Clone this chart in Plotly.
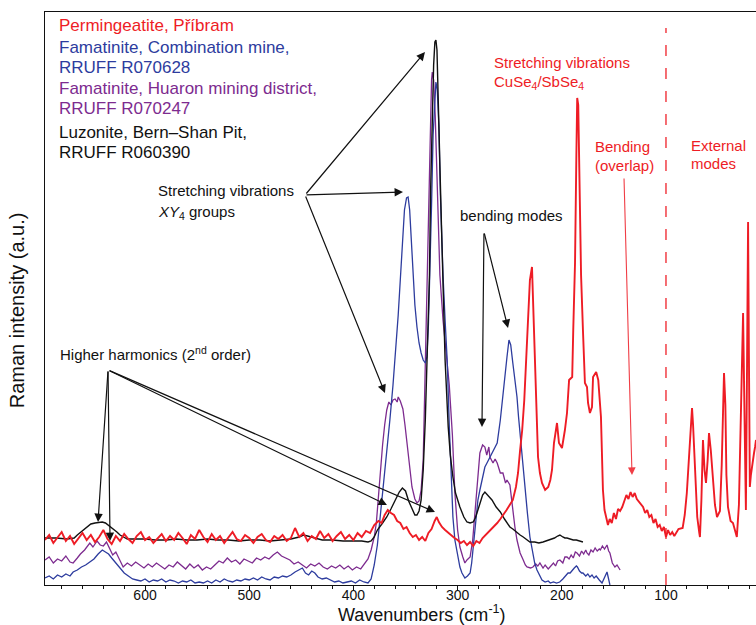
import plotly.graph_objects as go

# ---------------- data (wavenumber cm-1, Raman intensity a.u.) ----------------
red = [(696,45),(692,50),(688,42),(684,48),(680,53),(676,44),(672,49),(668,41),(664,47),(660,52),
(656,45),(652,50),(648,43),(644,48),(640,55),(636,46),(632,41),(628,49),(624,44),(620,51),
(616,46),(612,42),(608,49),(604,53),(600,45),(596,48),(592,42),(588,47),(584,51),(580,44),
(576,49),(572,45),(568,52),(564,47),(560,41),(556,50),(552,46),(548,55),(544,48),(540,43),
(536,51),(532,45),(528,49),(524,42),(520,48),(516,53),(512,46),(508,44),(504,50),(500,47),
(496,42),(492,48),(488,51),(484,45),(480,43),(476,49),(472,46),(468,50),(464,44),(460,47),
(456,57),(452,48),(448,52),(444,44),(440,49),(436,46),(432,54),(428,47),(424,51),(420,44),
(416,49),(412,53),(408,46),(404,50),(400,45),(396,52),(392,48),(388,54),(384,52),(380,60),
(376,64),(373,62),(370,70),(367,75),(364,72),(361,70),(358,64),(355,62),(352,56),(349,58),
(346,52),(343,48),(340,50),(337,45),(334,48),(331,44),(328,52),(325,56),(322,64),(320,68),
(318,63),(315,58),(312,55),(309,52),(306,49),(303,47),(300,45),(297,42),(294,44),(291,40),
(288,43),(285,39),(282,44),(279,42),(276,47),(273,50),(270,54),(267,56),(264,60),(262,62),
(259,66),(256,70),(253,75),(250,80),(247,85),(244,98),(242,112),(240,135),(238,155),(236,185),
(235,205),(233.5,235),(232.5,255),(230.6,305),(228.6,318),(227.7,288),(225.8,222),(223.8,172),(222.8,128),(221,112),
(219,102),(216,95),(213,98),(211,105),(209.4,115),(207.5,142),(205.6,158),(204.6,162),(202.7,142),(199.8,137),
(197,155),(195,172),(193,205),(190,208),(189,255),(187.3,322),(186,430),(185.2,487),(184.2,480),(183,400),
(181.5,310),(179.7,255),(177.8,202),(175.8,198),(174.8,182),(173,172),(171,178),(170,208),(167,213),(165,205),
(162.4,168),(160.5,95),(159,75),(157,66),(155.7,60),(154,66),(152,62),(150,72),(148,66),(146,76),
(144,74),(142,78),(140,84),(138,90),(136,86),(134,93),(132,88),(130,92),(128,86),(126,83),
(124,80),(122,78),(120,72),(118,75),(116,68),(114,70),(112,62),(110,66),(108,58),(106,60),
(104,54),(102,58),(100,48),(98,55),(96,50),(94,53),(92,49),(90,52),(88,56),(84,57),
(82,70),(80,92),(78,125),(76,158),(75,177),(74,160),(72,110),(70,68),(68,52),(67.4,48),
(66,85),(64.5,145),(63,115),(61.6,102),(60,125),(58.7,152),(57,135),(55,102),(53,80),(51,68),
(49,72),(48.2,74),(46.5,120),(45.3,170),(44.3,212),(43,180),(42,110),(40.5,78),(38,64),(35.7,62),
(34,54),(32,48),(30,80),(28,180),(26,272),(24.5,160),(23.3,75),(22.2,220),(21.2,363),(20.4,230),
(19.5,98),(18.5,110),(17.6,118),(16.5,125),(15.5,132),(14.5,138),(13.6,145)]

blue = [(696,7),(692,9),(688,6),(684,10),(680,8),(676,11),(672,9),(669,13),(665,15),(661,18),
(657,20),(653,23),(649,26),(645,31),(641,35),(638,33),(635,31),(632,27),(628,22),(624,17),
(620,12),(616,9),(612,6),(608,5),(604,4),(600,6),(596,3),(592,5),(588,4),(584,6),
(580,3),(576,5),(572,4),(568,2),(564,4),(560,3),(556,5),(552,2),(548,3),(544,2),
(540,4),(536,2),(532,5),(528,3),(524,6),(520,4),(516,3),(512,5),(508,4),(504,6),
(500,5),(496,7),(492,5),(488,8),(484,6),(480,5),(476,8),(472,7),(468,9),(464,8),
(460,10),(456,13),(452,15),(449,17),(446,12),(443,10),(440,14),(437,12),(434,8),(430,6),
(426,7),(422,5),(418,3),(414,4),(410,2),(406,3),(402,4),(398,2),(394,5),(390,3),
(386,2),(383,6),(380,20),(377,40),(374,70),(371,100),(368,135),(365,165),(362,200),(360,225),
(357,270),(355,305),(353,345),(351,375),(349,387),(347.5,388),(346,375),(344.5,345),(343,310),(341,280),
(339,258),(337,242),(335,232),(333,225),(331,222),(329.5,228),(328,260),(326.6,310),(325,380),(323.5,450),
(322,490),(320.8,503),(319.5,495),(318,460),(316.5,390),(315,335),(314,310),(312,265),(310,225),(308,160),
(306,100),(304.5,68),(302.6,45),(300,28),(297.8,18),(295.8,12),(293,7),(290.5,9),(288,12),(286.5,22),
(285,38),(283,62),(280.5,85),(278.6,95),(276,108),(273.8,118),(271.8,122),(269,128),(267,132),(264.5,137),
(262,142),(259,165),(256.5,192),(254,215),(252.6,228),(250.7,245),(249,240),(247,222),(245,205),(243,188),
(241.5,168),(240,150),(238,125),(236.5,110),(235,95),(233,72),(230.6,48),(228,32),(226,22),(223.8,15),
(221,9),(219,5),(216,3),(213,4),(211,2),(208,3),(205,2),(202,3),(199,6),(196,9),
(194,12),(192,12),(190,15),(188,17),(186,19),(185,18),(183,14),(181,12),(179.7,12),(177,9),
(175,11),(173,8),(171,10),(169,7),(167,9),(166,8),(164,5),(161.4,2),(159.5,6),(157.5,11),
(156.6,13),(155.5,8),(154.5,3),(153.8,0)]

purple = [(696,25),(692,28),(688,22),(684,26),(680,24),(676,29),(672,23),(669,22),(665,27),(662,31),
(658,35),(655,40),(653,42),(650,38),(646,44),(643,40),(640,39),(637,43),(634,36),(631,30),
(628,33),(624,24),(621,18),(617,22),(613,19),(609,23),(605,20),(601,17),(597,21),(593,18),
(589,22),(585,19),(581,16),(577,20),(573,18),(569,23),(565,19),(561,16),(557,21),(553,17),
(549,20),(545,15),(541,18),(537,16),(533,20),(529,24),(525,22),(521,27),(517,23),(513,25),
(509,21),(505,26),(501,24),(497,22),(493,27),(489,25),(485,28),(481,26),(477,30),(473,33),
(469,29),(465,27),(461,25),(457,21),(453,23),(449,20),(445,17),(441,21),(437,19),(433,22),
(429,18),(425,16),(421,19),(417,17),(413,20),(409,16),(405,19),(401,15),(397,18),(393,16),
(390,20),(386,26),(383,35),(380,48),(378,62),(376,90),(374,120),(372,140),(370,160),(368,175),
(366,183),(364,180),(362,185),(360,186),(358,183),(357,188),(355,184),(352.5,176),(350.5,160),(348.6,142),
(346,118),(343.8,98),(341,86),(339,82),(337,84),(335,95),(333,125),(331.5,200),(330,280),(329,340),
(327.5,410),(326,470),(325,505),(324.3,513),(323,505),(321.5,470),(320,410),(318.5,350),(317,310),(314,265),
(311,235),(308,200),(305,150),(302.6,92),(300,55),(297.8,38),(295,28),(293,22),(291,25),
(288,28),(285.5,45),(283,75),(280.5,110),(278.6,132),(276,140),(273.8,138),(272,130),(270,138),(269,128),
(266,122),(264,126),(262,122),(259,112),(256.5,112),(254,102),(252.6,105),(249.8,100),(248,85),(247,72),
(245,58),(243,45),(240,32),(237,25),(235,20),(233.4,18),(230,17),(227.7,18),(225,21),(223,19),
(221,22),(218,17),(216,20),(213,16),(211,18),(208,22),(206,19),(204,24),(201.8,25),(199,22),
(197,28),(195,28),(193,26),(191,30),(189,27),(187,33),(185.4,32),(183,29),(181,34),(179,31),
(177,35),(175.8,32),(174,30),(172,35),(170,33),(168,37),(166,34),(164,36),(163,35),(161,39),
(159,36),(156.6,40),(155,34),(153.8,32),(151.5,22),(149,18),(147,20),(145,16),(144,15)]

black = [(696,47),(685,47),(675,46),(668,47),(665,50),(660,54),(656,58),(652,61),(648,62),(644,63),
(641,63),(638,62),(634,59),(630,56),(627,53),(624,50),(621,48),(617,46),(610,46),(600,46),
(590,45),(580,45),(570,46),(560,45),(550,45),(540,46),(530,45),(520,45),(510,44),(500,45),
(490,45),(480,44),(470,45),(460,46),(452,48),(448,50),(444,49),(438,47),(430,45),(420,45),
(410,44),(400,44),(392,44),(386,43),(383,44),(380,48),(377,55),(372,62),(368,68),(364,76),
(360,85),(356,93),(353,97),(350,94),(347,84),(344,76),(341,70),(339,70),(337,74),(335,85),
(333,115),(331,165),(329.5,220),(328,270),(327,310),(326,390),(324.5,470),(323,520),(321.8,543),(320.8,545),
(319.8,535),(318.5,490),(317,420),(315.5,360),(314,310),(312,225),(309,158),(307,130),(304.5,108),(302,92),
(297.8,78),(294,68),(291,63),(288,62),(285,63),(283,67),(280.5,75),(278,84),(276,90),(273.8,93),
(271,90),(267,85),(263,78),(259,73),(255,66),(249.8,58),(247,56),(243,52),(240,50),(237,48),
(233,45),(230.6,43),(226,43),(222,42),(218,43),(215,44),(211,45),(207,47),(204,49),(201.8,50),
(199,48),(197,47),(195,47),(192,46),(189,45),(186,45),(183,44),(179.7,43)]

series_names = ["Permingeatite, Příbram", "Famatinite, Combination mine, RRUFF R070628",
                "Famatinite, Huaron mining district, RRUFF R070247", "Luzonite, Bern–Shan Pit, RRUFF R060390"]
tick_values = [600, 500, 400, 300, 200, 100]
boundary_wn = 100

RED = "#ee1c25"
BLUE = "#2d3c9e"
PURPLE = "#7d2b8f"
BLACK = "#111111"
FONT = "Liberation Sans, Arial, sans-serif"

fig = go.Figure()
for data, color, width, name in [(purple, PURPLE, 1.3, series_names[2]),
                                 (blue, BLUE, 1.3, series_names[1]),
                                 (black, BLACK, 1.4, series_names[3]),
                                 (red, RED, 1.9, series_names[0])]:
    wn, inten = zip(*data)
    fig.add_trace(go.Scatter(x=list(wn), y=list(inten), mode="lines", name=name,
                             line=dict(color=color, width=width), showlegend=False))

# dashed boundary
fig.add_shape(type="line", x0=boundary_wn, x1=boundary_wn, y0=0, y1=557, xref="x", yref="y",
              line=dict(color="rgba(238,28,37,0.85)", width=1.5, dash="11px,12px"))

ann = []
def txt(x, y, s, color=BLACK, size=15):
    ann.append(dict(x=x, y=y, xref="x", yref="y", text=s, showarrow=False, xanchor="left",
                    yanchor="middle", font=dict(family=FONT, size=size, color=color)))

def arrow(x0, y0, x1, y1, color=BLACK, width=1.2):
    ann.append(dict(x=x1, y=y1, ax=x0, ay=y0, xref="x", yref="y", axref="x", ayref="y",
                    text="", showarrow=True, arrowhead=2, arrowsize=1.4, arrowwidth=width,
                    arrowcolor=color, standoff=0, startstandoff=0))

# legend-like text block
leg_x = 684.5
txt(leg_x, 560, "Permingeatite, Příbram", RED, 17)
txt(leg_x, 538, "Famatinite, Combination mine,", BLUE, 17)
txt(leg_x, 518, "RRUFF R070628", BLUE, 17)
txt(leg_x, 497, "Famatinite, Huaron mining district,", PURPLE, 17)
txt(leg_x, 477, "RRUFF R070247", PURPLE, 17)
txt(leg_x, 453, "Luzonite, Bern–Shan Pit,", BLACK, 17)
txt(leg_x, 433, "RRUFF R060390", BLACK, 17)

# black annotations
txt(589.5, 395, "Stretching vibrations")
txt(589.5, 373, "<i>XY</i><sub>4</sub> groups")
arrow(446.4, 390, 331.3, 533)
arrow(446.4, 390, 352.4, 393)
arrow(446.4, 390, 369.7, 192)

txt(299.6, 370, "bending modes")
arrow(274.7, 353, 276.6, 158)
arrow(274.7, 353, 251.6, 257)

txt(683.5, 232, "Higher harmonics (2<sup>nd</sup> order)")
arrow(635.5, 215, 645.1, 63)
arrow(635.5, 215, 633.6, 44)
arrow(635.5, 215, 367.8, 80)
arrow(635.5, 215, 321.7, 73)

# red annotations
txt(267, 523, "Stretching vibrations", RED)
txt(267, 503, "CuSe<sub>4</sub>/SbSe<sub>4</sub>", RED)
txt(170, 439, "Bending", RED)
txt(170, 420, "(overlap)", RED)
txt(78, 440, "External", RED)
txt(78, 422, "modes", RED)
arrow(140.3, 408, 132.6, 110, color="rgba(238,28,37,0.85)", width=1.1)

# axis titles
ann.append(dict(x=0.530, y=-0.050, xref="paper", yref="paper", text="Wavenumbers (cm<sup>-1</sup>)",
                showarrow=False, xanchor="center", yanchor="middle",
                font=dict(family=FONT, size=18, color=BLACK)))
ann.append(dict(x=-0.039, y=0.48, xref="paper", yref="paper", text="Raman intensity (a.u.)",
                showarrow=False, textangle=-90, xanchor="center", yanchor="middle",
                font=dict(family=FONT, size=20, color=BLACK)))

fig.update_layout(
    width=756, height=625,
    margin=dict(l=45, r=0, t=12, b=40),
    paper_bgcolor="white", plot_bgcolor="white",
    annotations=ann,
    xaxis=dict(range=[696, 13.6], tickvals=tick_values, ticks="outside", ticklen=5, tickwidth=1,
               tickcolor=BLACK, showline=True, linecolor=BLACK, linewidth=1.2, mirror=True,
               showgrid=False, zeroline=False, ticklabelstandoff=-8,
               tickfont=dict(family=FONT, size=14, color=BLACK),
               minor=dict(dtick=20, tick0=0, ticks="outside", ticklen=3, tickcolor=BLACK, showgrid=False)),
    yaxis=dict(range=[0, 573], showticklabels=False, ticks="", showline=True, linecolor=BLACK,
               linewidth=1.2, showgrid=False, zeroline=False),
)

fig.write_html("out.html", config={"displayModeBar": False},
               post_script="document.body.style.margin='0';document.body.style.overflow='hidden';")
